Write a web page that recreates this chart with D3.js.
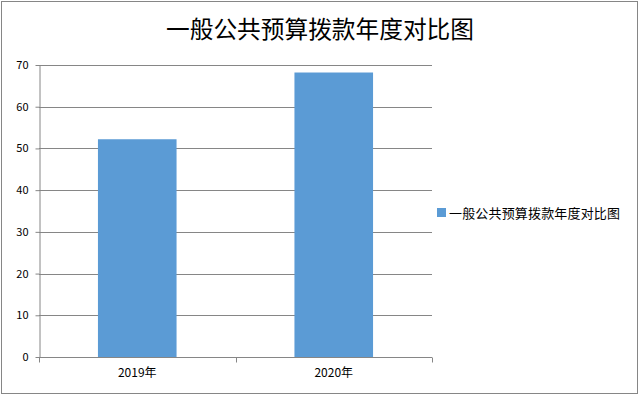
<!DOCTYPE html>
<html>
<head>
<meta charset="utf-8">
<script src="https://cdnjs.cloudflare.com/ajax/libs/d3/7.8.5/d3.min.js"></script>
<style>
  html, body { margin: 0; padding: 0; background: #fff; }
  text { font-family: "Noto Sans CJK SC", "DejaVu Sans", sans-serif; }
</style>
</head>
<body>
<div id="chart"></div>
<script>
// chart data
const categories = ['2019年', '2020年'];
const values = [52.2, 68.2];
const yTicks = [0, 10, 20, 30, 40, 50, 60, 70];
const seriesName = '一般公共预算拨款年度对比图';
const title = '一般公共预算拨款年度对比图';

const width = 640;
const height = 396;
const plot = { left: 39, right: 432, top: 65, bottom: 357 };
const barColor = '#5b9bd5';
const lineColor = '#868686';

const svg = d3.select('#chart')
  .append('svg')
    .attr('width', width)
    .attr('height', height);

// outer frame
svg.append('rect')
  .attr('x', 1.5).attr('y', 1.5)
  .attr('width', width - 4).attr('height', height - 4)
  .attr('fill', '#fff')
  .attr('stroke', lineColor);

svg.append('text')
  .attr('x', 320).attr('y', 38)
  .attr('text-anchor', 'middle')
  .attr('textLength', 308)
  .attr('lengthAdjust', 'spacingAndGlyphs')
  .style('font-size', '24px')
  .style('fill', '#000')
  .text(title);

const x = d3.scaleBand()
  .domain(categories)
  .range([plot.left, plot.right])
  .paddingInner(0.6)
  .paddingOuter(0.3);

const y = d3.scaleLinear()
  .domain([0, 70])
  .range([plot.bottom, plot.top]);

// grid lines
svg.append('g')
  .selectAll('line')
  .data(yTicks.filter(d => d > 0))
  .enter()
  .append('line')
    .attr('x1', plot.left).attr('x2', plot.right)
    .attr('y1', d => Math.round(y(d)) + 0.5)
    .attr('y2', d => Math.round(y(d)) + 0.5)
    .attr('stroke', lineColor);

// bars
svg.append('g')
  .selectAll('rect')
  .data(values)
  .enter()
  .append('rect')
    .attr('x', (d, i) => x(categories[i]))
    .attr('width', x.bandwidth())
    .attr('y', d => y(d))
    .attr('height', d => y(0) - y(d))
    .attr('fill', barColor);

// y axis
const yAxis = svg.append('g')
  .attr('transform', `translate(${plot.left + 0.5},0)`)
  .call(d3.axisLeft(y).tickValues(yTicks).tickSize(4).tickPadding(7).tickSizeOuter(0));
yAxis.select('.domain').attr('stroke', lineColor);
yAxis.selectAll('.tick line').attr('stroke', lineColor);
yAxis.selectAll('.tick text')
  .style('font-size', '11px')
  .style('fill', '#000');

// x axis (ticks between categories)
const xAxisG = svg.append('g')
  .attr('transform', `translate(0,${Math.round(plot.bottom) + 0.5})`);
xAxisG.append('line')
  .attr('x1', plot.left).attr('x2', plot.right)
  .attr('stroke', lineColor);
const step = (plot.right - plot.left) / categories.length;
xAxisG.selectAll('line.tk')
  .data(d3.range(categories.length + 1))
  .enter()
  .append('line')
    .attr('class', 'tk')
    .attr('x1', i => Math.round(plot.left + i * step) + 0.5)
    .attr('x2', i => Math.round(plot.left + i * step) + 0.5)
    .attr('y1', 0).attr('y2', 5)
    .attr('stroke', lineColor);
xAxisG.selectAll('text')
  .data(categories)
  .enter()
  .append('text')
    .attr('x', d => x(d) + x.bandwidth() / 2)
    .attr('y', 19)
    .attr('text-anchor', 'middle')
    .style('font-size', '12px')
    .style('fill', '#000')
    .text(d => d);

// legend
const legend = svg.append('g').attr('transform', 'translate(437,208)');
legend.append('rect')
  .attr('width', 9).attr('height', 9)
  .attr('fill', barColor);
legend.append('text')
  .attr('x', 12).attr('y', 9.5)
  .attr('textLength', 171)
  .attr('lengthAdjust', 'spacing')
  .style('font-size', '13px')
  .style('fill', '#000')
  .text(seriesName);
</script>
</body>
</html>
